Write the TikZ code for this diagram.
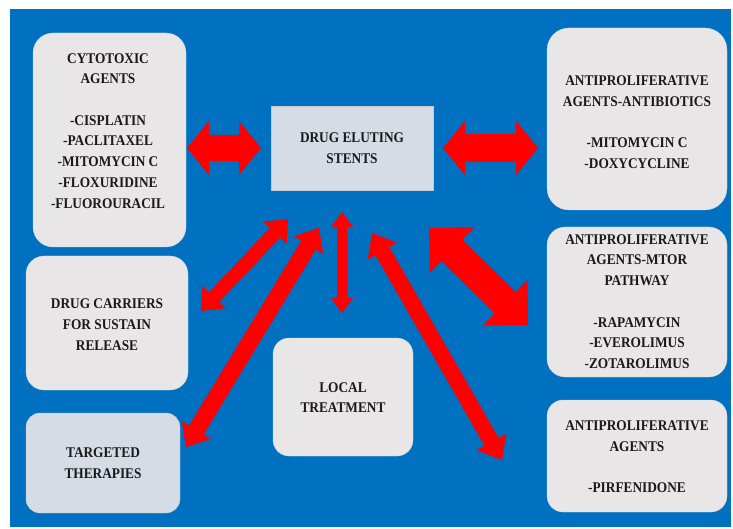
\documentclass[tikz,border=0pt]{standalone}
\usepackage{fontspec}
\setmainfont[FakeStretch=0.9]{Liberation Serif}
\usetikzlibrary{calc}
\definecolor{bgblue}{HTML}{0070C0}
\definecolor{boxgrey}{HTML}{E8E6E7}
\definecolor{boxblue}{HTML}{D6DCE5}
\definecolor{arrred}{HTML}{FF0000}
\definecolor{txt}{HTML}{1A1A1A}
% #1 tip A, #2 tip B, #3 shaft half width, #4 head half width, #5 head length
\newcommand{\dblblockarrow}[5]{%
  \fill[arrred] (#1)
    -- ($(#1)!#5!(#2)!#4!90:(#2)$)
    -- ($(#1)!#5!(#2)!#3!90:(#2)$)
    -- ($(#2)!#5!(#1)!#3!-90:(#1)$)
    -- ($(#2)!#5!(#1)!#4!-90:(#1)$)
    -- (#2)
    -- ($(#2)!#5!(#1)!#4!90:(#1)$)
    -- ($(#2)!#5!(#1)!#3!90:(#1)$)
    -- ($(#1)!#5!(#2)!#3!-90:(#2)$)
    -- ($(#1)!#5!(#2)!#4!-90:(#2)$)
    -- cycle;}
\tikzset{
  box/.style={draw=#1!92!black, line width=0.3pt, fill=#1, inner sep=0pt, outer sep=0pt},
  lbl/.style={align=center, font=\fontsize{14.8}{20.7}\selectfont\bfseries, text=txt, inner sep=0pt}
}
\begin{document}
\begin{tikzpicture}[x=1pt,y=-1pt]
\useasboundingbox (0,0) rectangle (733,529);
\fill[white] (0,0) rectangle (733,529);
\fill[bgblue] (10,9) rectangle (731,527);

% boxes
\node[box=boxgrey, rounded corners=20pt, minimum width=153pt, minimum height=214pt] (cyto) at (109.5,140) {};
\node[box=boxblue, minimum width=162pt, minimum height=84pt] (des) at (352,148) {};
\node[box=boxgrey, rounded corners=22pt, minimum width=180pt, minimum height=182pt] (anti) at (637,119) {};
\node[box=boxgrey, rounded corners=18pt, minimum width=180pt, minimum height=150pt] (mtor) at (637,302) {};
\node[box=boxgrey, rounded corners=16pt, minimum width=180pt, minimum height=112pt] (pirf) at (637,456) {};
\node[box=boxgrey, rounded corners=18pt, minimum width=162pt, minimum height=134pt] (carr) at (107,323) {};
\node[box=boxblue, rounded corners=14pt, minimum width=154pt, minimum height=100pt] (targ) at (103,463) {};
\node[box=boxgrey, rounded corners=16pt, minimum width=140pt, minimum height=118pt] (local) at (343,397) {};

% labels
\node[lbl] (cyto-t) at (108,130.8) {CYTOTOXIC\\AGENTS\\[20.7pt]-CISPLATIN\\-PACLITAXEL\\-MITOMYCIN C\\-FLOXURIDINE\\-FLUOROURACIL};
\node[lbl] (des-t) at (352,148.5) {DRUG ELUTING\\STENTS};
\node[lbl] (anti-t) at (637,122) {ANTIPROLIFERATIVE\\AGENTS-ANTIBIOTICS\\[20.7pt]-MITOMYCIN C\\-DOXYCYCLINE};
\node[lbl] (mtor-t) at (637,301.5) {ANTIPROLIFERATIVE\\AGENTS-MTOR\\PATHWAY\\[20.7pt]-RAPAMYCIN\\-EVEROLIMUS\\-ZOTAROLIMUS};
\node[lbl] (pirf-t) at (637,457) {ANTIPROLIFERATIVE\\AGENTS\\[20.7pt]-PIRFENIDONE};
\node[lbl] (carr-t) at (107,324.5) {DRUG CARRIERS\\FOR SUSTAIN\\RELEASE};
\node[lbl] (targ-t) at (103,463.5) {TARGETED\\THERAPIES};
\node[lbl] (local-t) at (343,397.5) {LOCAL\\TREATMENT};

% arrow end points
\coordinate (a1a) at (187,148);  \coordinate (a1b) at (261,148);
\coordinate (a2a) at (443,148);  \coordinate (a2b) at (538,148);
\coordinate (a3a) at (429,228);  \coordinate (a3b) at (528,325);
\coordinate (a4a) at (342,212);  \coordinate (a4b) at (342,313);
\coordinate (a5a) at (288,219);  \coordinate (a5b) at (201,311);
\coordinate (a6a) at (319,228);  \coordinate (a6b) at (186,447);
\coordinate (a7a) at (372,233);  \coordinate (a7b) at (502,460);

\dblblockarrow{a1a}{a1b}{13pt}{27pt}{22pt}
\dblblockarrow{a2a}{a2b}{14pt}{27pt}{22pt}
\dblblockarrow{a3a}{a3b}{15pt}{32pt}{32pt}
\dblblockarrow{a4a}{a4b}{5pt}{11pt}{15pt}
\dblblockarrow{a5a}{a5b}{7pt}{16pt}{19pt}
\dblblockarrow{a6a}{a6b}{8.5pt}{17pt}{20pt}
\dblblockarrow{a7a}{a7b}{8pt}{17pt}{21pt}
\end{tikzpicture}
\end{document}
